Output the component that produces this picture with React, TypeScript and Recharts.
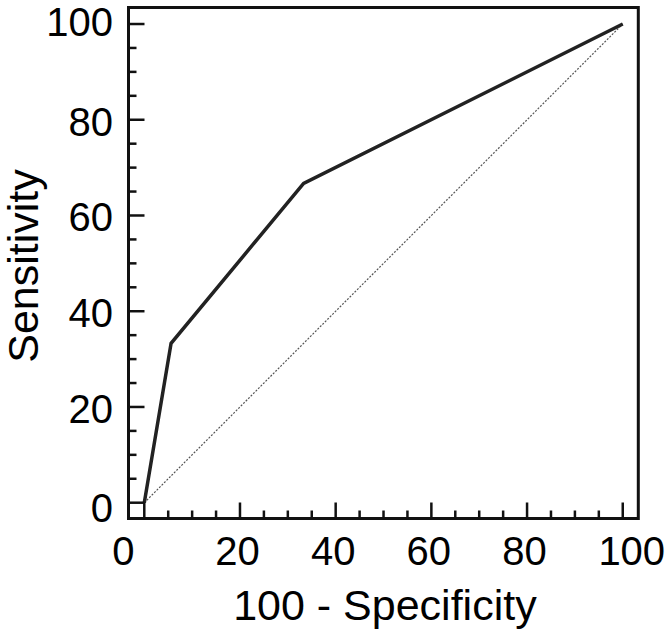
import { ComposedChart, Line, XAxis, YAxis, ReferenceArea } from "recharts";

// ROC curve
const falsePositiveRate = [0, 5.6, 33.3, 100];
const sensitivity = [0, 33.3, 66.7, 100];

// chance diagonal
const chanceX = [0, 100];
const chanceY = [0, 100];

const axisTicks = [0, 5, 10, 15, 20, 25, 30, 35, 40, 45, 50, 55, 60, 65, 70, 75, 80, 85, 90, 95, 100];
const labelledTicks = [0, 20, 40, 60, 80, 100];

const xDomain = [-3.3, 103.25];
const yDomain = [-3.3, 103.45];

const rocData = falsePositiveRate.map((x, i) => ({ x, y: sensitivity[i] }));
const chanceData = chanceX.map((x, i) => ({ x, y: chanceY[i] }));

const FONT = "'Liberation Sans', Arial, sans-serif";

// end labels sit a bit outwards in the original
const xShift: Record<number, number> = { 0: -21, 100: 9 };
const yShift: Record<number, number> = { 100: -2, 0: 5 };

function XTick(props: any) {
      const { x, y, payload } = props;
      const v = payload.value;
      const major = labelledTicks.includes(v);
      return (
            <g>
                  <line x1={x} y1={y} x2={x} y2={y - (major ? 16 : 8)} stroke="#111" strokeWidth={2.5} />
                  {major && (
                        <text
                              x={x + (xShift[v] ?? -2.5)}
                              y={y + 46.5}
                              textAnchor="middle"
                              fontSize={40}
                              fontFamily={FONT}
                              fill="#000"
                        >
                              {v}
                        </text>
                  )}
            </g>
      );
}

function YTick(props: any) {
      const { x, y, payload } = props;
      const v = payload.value;
      const major = labelledTicks.includes(v);
      return (
            <g>
                  <line x1={x} y1={y} x2={x + (major ? 16 : 8)} y2={y} stroke="#111" strokeWidth={2.5} />
                  {major && (
                        <text
                              x={x - 15.5}
                              y={y + (yShift[v] ?? 1.5) + 14.3}
                              textAnchor="end"
                              fontSize={40}
                              fontFamily={FONT}
                              fill="#000"
                        >
                              {v}
                        </text>
                  )}
            </g>
      );
}

export default function App() {
      return (
            <div style={{ position: "absolute", left: 0, top: 0, width: 668, height: 630, background: "#fff" }}>
                  <ComposedChart
                        width={668}
                        height={630}
                        margin={{ top: 7.5, right: 29.7, left: 0, bottom: 0 }}
                  >
                        <XAxis
                              type="number"
                              dataKey="x"
                              domain={xDomain}
                              ticks={axisTicks}
                              interval={0}
                              allowDataOverflow
                              height={111.5}
                              axisLine={false}
                              tickLine={false}
                              tickSize={0}
                              tickMargin={0}
                              tick={(p: any) => <XTick {...p} />}
                              label={{
                                    content: (p: any) => {
                                          const vb = p.viewBox;
                                          return (
                                                <text
                                                      x={vb.x + vb.width / 2 + 1.5}
                                                      y={vb.y + 101.5}
                                                      textAnchor="middle"
                                                      fontSize={43}
                                                      fontFamily={FONT}
                                                      fill="#000"
                                                >
                                                      100 - Specificity
                                                </text>
                                          );
                                    },
                              }}
                        />
                        <YAxis
                              type="number"
                              dataKey="y"
                              domain={yDomain}
                              ticks={axisTicks}
                              interval={0}
                              allowDataOverflow
                              width={128.5}
                              axisLine={false}
                              tickLine={false}
                              tickSize={0}
                              tickMargin={0}
                              tick={(p: any) => <YTick {...p} />}
                              label={{
                                    content: (p: any) => {
                                          const vb = p.viewBox;
                                          const cy = vb.y + vb.height / 2 + 3;
                                          return (
                                                <text
                                                      x={38}
                                                      y={cy}
                                                      transform={`rotate(-90, 38, ${cy})`}
                                                      textAnchor="middle"
                                                      fontSize={43}
                                                      fontFamily={FONT}
                                                      fill="#000"
                                                >
                                                      Sensitivity
                                                </text>
                                          );
                                    },
                              }}
                        />

                        {/* frame */}
                        <ReferenceArea
                              x1={xDomain[0]}
                              x2={xDomain[1]}
                              y1={yDomain[0]}
                              y2={yDomain[1]}
                              fill="none"
                              stroke="#111"
                              strokeWidth={3}
                              ifOverflow="visible"
                        />

                        {/* chance line */}
                        <Line
                              data={chanceData}
                              dataKey="y"
                              type="linear"
                              stroke="#555"
                              strokeWidth={1.2}
                              strokeDasharray="2 1.5"
                              dot={false}
                              activeDot={false}
                              isAnimationActive={false}
                        />

                        {/* ROC */}
                        <Line
                              data={rocData}
                              dataKey="y"
                              type="linear"
                              stroke="#222"
                              strokeWidth={3.5}
                              dot={false}
                              activeDot={false}
                              isAnimationActive={false}
                        />
                  </ComposedChart>
            </div>
      );
}
